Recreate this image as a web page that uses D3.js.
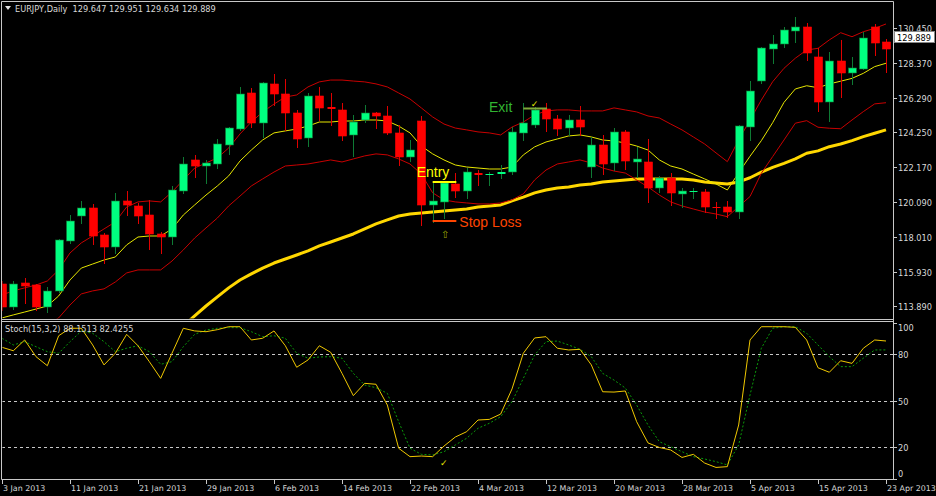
<!DOCTYPE html>
<html><head><meta charset="utf-8">
<script src="https://cdn.jsdelivr.net/npm/d3@7"></script>
<style>html,body{margin:0;padding:0;background:#000;}svg{display:block;}</style>
</head><body>
<svg id="c" width="936" height="496"></svg>
<script>
// ---------- DATA ----------
const open = [115.20,113.84,115.26,115.15,113.84,114.79,117.77,119.25,119.73,118.12,
117.41,120.15,119.85,119.31,118.18,118.00,120.74,122.59,122.23,122.35,
123.48,124.44,126.58,124.79,127.12,126.52,125.39,123.90,126.40,125.75,
125.57,124.08,124.97,125.39,125.21,124.20,122.77,124.91,119.91,120.09,
121.16,120.74,121.82,121.70,121.76,121.88,124.20,124.67,125.63,125.03,
124.50,124.97,122.17,123.48,122.41,124.26,122.47,122.47,120.92,121.52,
120.57,120.68,120.68,119.76,119.79,119.49,124.56,127.30,129.20,129.50,
130.27,130.51,128.72,126.04,128.49,127.77,128.01,130.51,129.62];
const high = [115.38,115.38,115.56,115.20,115.03,117.89,119.31,120.15,119.97,118.24,
120.63,120.74,120.03,120.21,118.30,121.04,122.77,122.89,122.59,123.84,
124.56,126.94,126.88,127.24,127.71,127.41,125.57,126.58,126.94,126.58,
125.99,125.27,125.87,125.45,125.81,124.67,123.78,125.21,121.28,121.28,
121.82,122.11,121.99,121.88,122.29,124.56,125.99,125.75,125.99,125.27,
125.27,125.81,123.96,124.08,124.50,124.38,123.36,123.84,121.64,121.82,
120.92,120.92,120.86,120.09,120.15,124.67,127.30,129.32,130.04,130.51,
131.10,130.75,129.26,129.02,129.74,128.72,130.21,130.69,129.80];
const low = [113.66,113.72,114.07,113.66,113.54,114.73,117.65,118.84,117.59,116.46,
117.05,119.31,118.84,117.29,117.05,117.59,120.63,121.58,121.22,122.11,
122.95,124.38,124.56,123.96,125.87,124.38,123.36,123.42,124.97,124.67,
123.78,122.83,124.85,124.50,124.14,122.29,122.53,118.72,118.90,119.14,
120.39,120.33,121.10,121.10,121.52,121.76,123.78,124.56,124.32,124.08,
124.08,124.08,121.58,121.76,121.99,122.05,121.58,120.09,120.68,119.91,
119.79,120.33,119.49,119.14,119.20,119.14,123.78,127.18,128.37,129.32,
129.62,128.55,125.51,124.91,126.34,127.12,128.01,128.84,127.83];
const close = [113.84,115.20,115.09,113.84,114.79,117.83,118.96,119.73,118.06,117.41,
120.15,119.91,119.25,118.18,118.00,120.80,122.35,122.23,122.41,123.54,
124.50,126.52,124.79,127.18,126.52,125.39,123.84,126.40,125.69,125.63,
124.02,124.85,125.39,125.21,124.20,122.77,123.19,119.91,120.15,121.22,
120.74,121.88,121.70,121.76,121.88,124.26,124.79,125.57,125.03,124.44,
124.97,124.56,123.48,122.35,124.26,122.53,122.65,120.92,121.52,120.63,
120.74,120.74,119.79,119.70,119.49,124.62,126.70,129.26,129.50,130.33,
130.51,128.96,126.04,128.49,127.77,128.07,129.86,129.56,129.20];

const upperBand = [114.55,114.79,114.97,115.14,115.38,116.04,117.05,117.65,118.06,118.48,
118.90,119.79,120.09,120.15,120.09,120.68,121.40,122.11,122.41,122.71,
123.30,124.14,124.85,125.45,125.92,126.34,126.46,126.94,127.24,127.35,
127.35,127.29,127.24,127.12,126.94,126.58,126.22,125.69,125.15,124.73,
124.49,124.38,124.26,124.20,124.08,124.55,124.85,125.27,125.51,125.57,
125.57,125.51,125.51,125.51,125.69,125.57,125.45,125.21,125.09,124.73,
124.38,123.96,123.54,123.01,122.49,123.78,124.97,126.16,127.25,128.05,
128.65,129.14,129.24,129.74,130.17,129.93,130.23,130.43,130.69];
const middleBand = [113.18,113.36,113.53,113.71,113.89,114.49,115.44,116.15,116.39,116.63,
116.81,117.53,118.00,118.06,118.06,118.48,119.31,119.91,120.50,121.04,
121.64,122.53,123.18,123.78,124.20,124.32,124.43,124.61,124.85,124.85,
124.91,124.91,124.97,124.97,124.91,124.61,124.20,123.42,122.95,122.59,
122.29,122.17,122.11,122.05,122.05,122.17,122.89,123.37,123.66,123.84,
124.02,124.08,123.96,123.78,123.72,123.60,123.42,123.18,122.59,122.23,
122.05,121.75,121.46,121.16,120.80,121.83,122.81,123.74,124.81,126.02,
126.82,127.01,126.89,127.12,127.28,127.45,127.75,128.15,128.35];
const lowerBand = [111.57,111.87,112.17,112.46,112.76,113.18,113.95,114.61,114.79,114.91,
115.32,115.86,116.04,116.04,116.04,116.57,117.23,117.94,118.54,119.13,
119.85,120.44,121.04,121.46,121.87,122.23,122.29,122.35,122.47,122.59,
122.47,122.65,122.83,122.95,122.89,122.65,122.35,121.75,120.63,120.21,
120.09,120.03,119.97,119.97,120.03,120.21,120.57,121.40,121.99,122.35,
122.47,122.59,122.41,122.11,121.93,121.81,121.40,120.98,120.50,120.09,
119.85,119.67,119.49,119.37,119.21,119.81,120.41,121.80,122.79,123.78,
124.78,124.93,124.54,124.48,124.45,124.97,125.47,125.93,126.00];
const slowMA = [null,null,null,null,null,null,null,null,null,null,
null,null,null,null,null,null,112.70,113.30,113.89,114.43,
114.97,115.44,115.80,116.15,116.45,116.69,116.93,117.17,117.47,117.70,
117.94,118.18,118.48,118.78,119.02,119.25,119.37,119.43,119.49,119.55,
119.61,119.67,119.79,119.85,119.91,120.15,120.38,120.63,120.80,120.92,
120.98,121.10,121.16,121.28,121.34,121.40,121.46,121.46,121.46,121.46,
121.46,121.40,121.28,121.22,121.16,121.28,121.53,121.86,122.15,122.39,
122.65,122.99,123.13,123.38,123.54,123.74,123.98,124.18,124.38];

const stochK = [84.1,81.9,88.8,78.1,72.3,91.5,96.3,96.3,85.6,72.8,
80.3,92.4,85.1,74.9,64.2,80.3,96.3,94.6,94.1,95.4,
97.3,97.3,88.8,89.9,94.6,85.1,71.3,76.0,85.1,80.9,
67.4,53.1,61.0,60.4,47.1,19.4,14.0,14.4,14.0,20.8,
26.6,30.0,37.5,37.9,41.3,57.4,80.3,90.1,90.9,83.5,
82.4,82.8,72.8,55.6,55.4,56.1,36.4,22.8,19.9,18.3,
13.5,15.5,9.9,7.1,7.6,34.3,88.8,97.3,97.3,97.3,
96.9,88.8,71.0,68.1,75.5,73.8,83.5,88.8,88.15];
const stochD = [89.9,85.6,87.7,84.5,81.3,80.3,87.7,94.5,93.1,87.7,
81.3,83.5,85.1,81.3,73.2,74.9,84.5,92.4,95.2,96.3,
96.7,96.7,94.1,90.9,91.5,89.9,80.3,77.1,77.9,78.1,
77.1,67.4,59.9,58.2,54.6,36.4,19.4,15.5,15.1,17.2,
21.5,25.8,32.2,35.4,39.6,49.2,64.2,79.2,87.7,88.1,
85.6,82.8,78.1,67.4,63.1,58.0,47.1,34.3,23.6,20.4,
17.2,14.0,12.5,10.8,8.7,21.5,53.5,83.5,96.3,97.3,
97.3,93.1,85.6,78.1,71.7,71.7,77.1,82.4,82.43];

const priceTicks = [130.45,128.37,126.29,124.25,122.17,120.09,118.01,115.93,113.89];
const stochTicks = [100,80,50,20,0];
const stochLevels = [80,50,20];
const dateTickBars = [0,6,12,18,24,30,36,42,48,54,60,66,72,78];
const dateTickLabels = ["3 Jan 2013","11 Jan 2013","21 Jan 2013","29 Jan 2013","6 Feb 2013",
"14 Feb 2013","22 Feb 2013","4 Mar 2013","12 Mar 2013","20 Mar 2013","28 Mar 2013",
"5 Apr 2013","15 Apr 2013","23 Apr 2013"];
const lastPrice = 129.889;
const titleText = "EURJPY,Daily  129.647 129.951 129.634 129.889";
const stochTitle = "Stoch(15,3,2) 88.1513 82.4255";
// trade annotations: [fromBar, toBar, price]
const entryLine = [38, 40, 121.28];
const stopLine = [38, 40, 118.96];
const exitLine = [46, 48, 125.65];

// ---------- LAYOUT ----------
const W = 936, H = 496;
const L = 2, R = 893, mainTop = 2, mainBot = 319, stTop = 321, stBot = 479;
const svg = d3.select("#c");
svg.append("rect").attr("width", W).attr("height", H).attr("fill", "#000");

const x = d3.scaleLinear().domain([0, 78]).range([2, 886]);
const y = d3.scaleLinear().domain([113.89, 130.45]).range([306, 28]);
const ys = d3.scaleLinear().domain([0, 100]).range([478.5, 322.5]);
const FONT = "DejaVu Sans, Tahoma, sans-serif";
const AX = "#c8c8c8";

const defs = svg.append("defs");
defs.append("clipPath").attr("id", "cm").append("rect")
  .attr("x", L + 0.5).attr("y", mainTop + 0.5).attr("width", R - L - 0.5).attr("height", mainBot - mainTop - 1);
defs.append("clipPath").attr("id", "cs").append("rect")
  .attr("x", L + 0.5).attr("y", stTop + 0.5).attr("width", R - L - 0.5).attr("height", stBot - stTop - 1);

const gm = svg.append("g").attr("clip-path", "url(#cm)");
const gs = svg.append("g").attr("clip-path", "url(#cs)");

const idx = d3.range(open.length);
const lineOf = (arr, sc) => d3.line().defined(i => arr[i] != null).x(i => x(i)).y(i => sc(arr[i]));

// thick slow MA
gm.append("path").attr("d", lineOf(slowMA, y)(idx)).attr("fill", "none")
  .attr("stroke", "#ffd700").attr("stroke-width", 3).attr("stroke-linejoin", "round");
// bands
gm.append("path").attr("d", lineOf(upperBand, y)(idx)).attr("fill", "none").attr("stroke", "#c80000").attr("stroke-width", 1);
gm.append("path").attr("d", lineOf(lowerBand, y)(idx)).attr("fill", "none").attr("stroke", "#c80000").attr("stroke-width", 1);
gm.append("path").attr("d", lineOf(middleBand, y)(idx)).attr("fill", "none").attr("stroke", "#e6e600").attr("stroke-width", 1);

// candles
const cg = gm.append("g");
idx.forEach(i => {
  const up = close[i] >= open[i];
  const xc = Math.round(x(i));
  cg.append("line").attr("x1", xc + 0.5).attr("x2", xc + 0.5)
    .attr("y1", Math.round(y(high[i]))).attr("y2", Math.round(y(low[i])) + 1)
    .attr("stroke", up ? "#0e7a34" : "#e00000").attr("stroke-width", 1);
  const yt = Math.round(y(Math.max(open[i], close[i])));
  const yb = Math.round(y(Math.min(open[i], close[i])));
  const h = Math.max(1, yb - yt);
  cg.append("rect").attr("x", xc - 3.5).attr("y", yt).attr("width", 8).attr("height", h)
    .attr("fill", up ? "#00ff80" : "#ff0000")
    .attr("stroke", up ? "#0e7a34" : "#ff0000").attr("stroke-width", h > 2 ? 0.6 : 0);
});

// annotations
function hline(g, spec, color, w) {
  g.append("line").attr("x1", x(spec[0])).attr("x2", x(spec[1]) + 1)
    .attr("y1", y(spec[2])).attr("y2", y(spec[2])).attr("stroke", color).attr("stroke-width", w);
}
hline(gm, entryLine, "#ffff00", 2);
hline(gm, stopLine, "#ff4500", 2);
hline(gm, exitLine, "#7fa83a", 2);
gm.append("text").attr("x", x(entryLine[0]) - 16).attr("y", y(entryLine[2]) - 5)
  .attr("font-family", "Liberation Sans, Arial, sans-serif").attr("font-size", 14).attr("fill", "#ffff00").text("Entry");
gm.append("text").attr("x", x(stopLine[1]) + 4).attr("y", y(stopLine[2]) + 6)
  .attr("font-family", "Liberation Sans, Arial, sans-serif").attr("font-size", 14).attr("fill", "#ff4500").text("Stop Loss");
gm.append("text").attr("x", x(exitLine[0]) - 11).attr("y", y(exitLine[2]) + 3).attr("text-anchor", "end")
  .attr("font-family", "Liberation Sans, Arial, sans-serif").attr("font-size", 14).attr("fill", "#32b432").text("Exit");
gm.append("text").attr("x", x(47) - 4).attr("y", y(exitLine[2]) - 2)
  .attr("font-family", FONT).attr("font-size", 9).attr("fill", "#e6e600").text("✓");
gm.append("text").attr("x", x(39) - 3).attr("y", y(stopLine[2]) + 17)
  .attr("font-family", FONT).attr("font-size", 10).attr("fill", "#9aa800").text("⇧");

// stochastic
stochLevels.forEach(v => {
  gs.append("line").attr("x1", L).attr("x2", R).attr("y1", Math.round(ys(v)) + 0.5).attr("y2", Math.round(ys(v)) + 0.5)
    .attr("stroke", "#c8c8c8").attr("stroke-dasharray", "3,3").attr("stroke-width", 1);
});
gs.append("path").attr("d", lineOf(stochD, ys)(idx)).attr("fill", "none")
  .attr("stroke", "#0a9a0a").attr("stroke-width", 1).attr("stroke-dasharray", "2,2");
gs.append("path").attr("d", lineOf(stochK, ys)(idx)).attr("fill", "none")
  .attr("stroke", "#f0c800").attr("stroke-width", 1);
gs.append("text").attr("x", x(39) - 4).attr("y", ys(stochK[39]) + 20)
  .attr("font-family", FONT).attr("font-size", 9).attr("fill", "#e6e600").text("✓");

// frames
const fr = svg.append("g").attr("stroke", AX).attr("stroke-width", 1).attr("fill", "none");
fr.append("line").attr("x1", 1.5).attr("x2", R + 0.5).attr("y1", 1.5).attr("y2", 1.5);
fr.append("line").attr("x1", 1.5).attr("x2", 1.5).attr("y1", 1.5).attr("y2", stBot + 0.5);
fr.append("line").attr("x1", R + 0.5).attr("x2", R + 0.5).attr("y1", 1.5).attr("y2", stBot + 0.5);
fr.append("line").attr("x1", 1.5).attr("x2", R + 0.5).attr("y1", mainBot + 0.5).attr("y2", mainBot + 0.5);
fr.append("line").attr("x1", 1.5).attr("x2", R + 0.5).attr("y1", stTop + 0.5).attr("y2", stTop + 0.5);
fr.append("line").attr("x1", 1.5).attr("x2", R + 0.5).attr("y1", stBot + 0.5).attr("y2", stBot + 0.5);

// price axis
const pa = svg.append("g");
priceTicks.forEach(v => {
  const yy = Math.round(y(v)) + 0.5;
  pa.append("line").attr("x1", R).attr("x2", R + 4).attr("y1", yy).attr("y2", yy).attr("stroke", AX);
  pa.append("text").attr("x", 898).attr("y", yy + 3.5).attr("font-family", FONT).attr("font-size", 8.2)
    .attr("fill", "#d8d8d8").text(d3.format(".3f")(v));
});
const ly = Math.round(y(lastPrice));
pa.append("rect").attr("x", R + 1.5).attr("y", ly - 5.5).attr("width", 40).attr("height", 11)
  .attr("fill", "#ffffff").attr("stroke", "#888").attr("stroke-width", 1);
pa.append("text").attr("x", 897).attr("y", ly + 3.5).attr("font-family", FONT).attr("font-size", 8.2)
  .attr("fill", "#000").text(d3.format(".3f")(lastPrice));

// stoch axis
stochTicks.forEach(v => {
  const yy = Math.round(ys(v)) + 0.5;
  const ty = Math.min(Math.max(yy, 327), 473);
  pa.append("line").attr("x1", R).attr("x2", R + 4).attr("y1", yy).attr("y2", yy).attr("stroke", AX);
  pa.append("text").attr("x", 898).attr("y", ty + 3.5).attr("font-family", FONT).attr("font-size", 8.2)
    .attr("fill", "#d8d8d8").text(v);
});

// date axis
dateTickBars.forEach((b, k) => {
  const xx = Math.round(x(b)) + 0.5;
  pa.append("line").attr("x1", xx).attr("x2", xx).attr("y1", stBot).attr("y2", stBot + 5).attr("stroke", AX);
  pa.append("text").attr("x", xx + 0.5).attr("y", 491).attr("font-family", FONT).attr("font-size", 7.9)
    .attr("fill", "#d8d8d8").text(dateTickLabels[k]);
});

// titles
svg.append("path").attr("d", "M5,6 L11,6 L8,10 Z").attr("fill", "#e0e0e0");
svg.append("text").attr("x", 15).attr("y", 12).attr("font-family", FONT).attr("font-size", 8.2)
  .attr("fill", "#d8d8d8").attr("xml:space", "preserve").style("white-space", "pre").text(titleText);
svg.append("text").attr("x", 5).attr("y", 332).attr("font-family", FONT).attr("font-size", 8.2)
  .attr("fill", "#d8d8d8").text(stochTitle);
</script>
</body></html>
